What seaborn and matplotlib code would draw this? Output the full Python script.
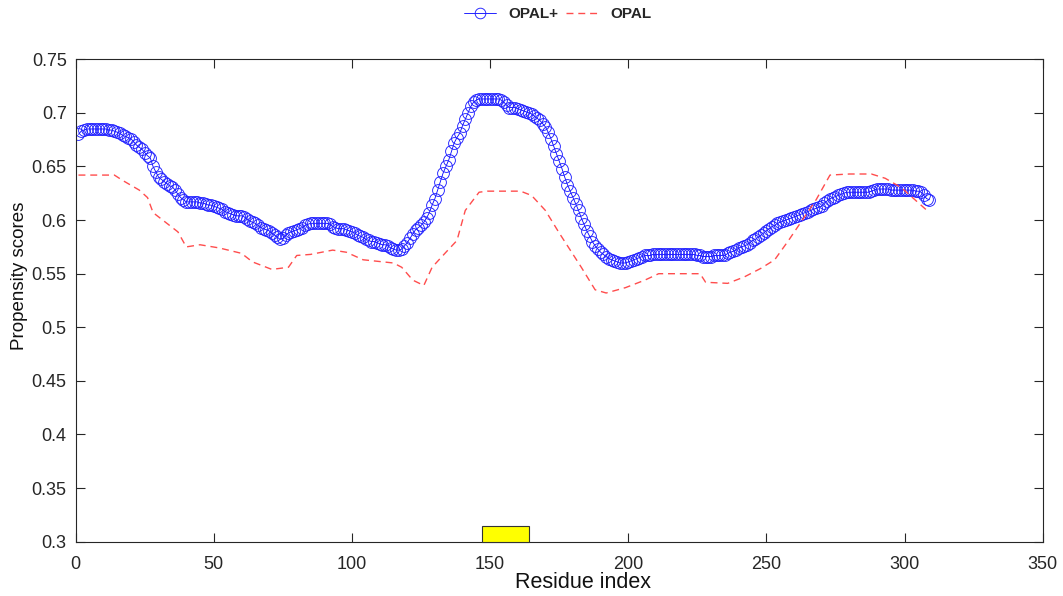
import numpy as np
import pandas as pd
import matplotlib
matplotlib.use("Agg")
import matplotlib.pyplot as plt
from matplotlib.patches import Rectangle
import seaborn as sns

# ---------------- data ----------------
opal_plus = [
    0.680, 0.683, 0.684, 0.685, 0.685, 0.685, 0.685, 0.685, 0.685, 0.685,
    0.685, 0.684, 0.684, 0.683, 0.682, 0.681, 0.679, 0.678, 0.677, 0.676,
    0.673, 0.670, 0.668, 0.666, 0.663, 0.660, 0.658, 0.650, 0.645, 0.640,
    0.638, 0.636, 0.634, 0.632, 0.631, 0.628, 0.624, 0.621, 0.619, 0.617,
    0.617, 0.617, 0.617, 0.617, 0.616, 0.616, 0.615, 0.614, 0.614, 0.613,
    0.612, 0.611, 0.610, 0.608, 0.607, 0.606, 0.605, 0.604, 0.604, 0.604,
    0.603, 0.601, 0.599, 0.598, 0.597, 0.595, 0.593, 0.592, 0.591, 0.590,
    0.588, 0.586, 0.584, 0.582, 0.583, 0.586, 0.588, 0.589, 0.590, 0.591,
    0.592, 0.593, 0.595, 0.596, 0.597, 0.597, 0.597, 0.597, 0.597, 0.597,
    0.597, 0.596, 0.594, 0.593, 0.592, 0.592, 0.592, 0.591, 0.590, 0.589,
    0.588, 0.586, 0.585, 0.584, 0.582, 0.581, 0.580, 0.580, 0.579, 0.578,
    0.577, 0.577, 0.576, 0.574, 0.573, 0.572, 0.572, 0.573, 0.576, 0.579,
    0.583, 0.587, 0.591, 0.593, 0.595, 0.598, 0.602, 0.607, 0.614, 0.620,
    0.628, 0.636, 0.644, 0.650, 0.656, 0.664, 0.672, 0.677, 0.681, 0.688,
    0.694, 0.700, 0.706, 0.710, 0.712, 0.713, 0.713, 0.713, 0.713, 0.713,
    0.713, 0.713, 0.713, 0.712, 0.710, 0.707, 0.705, 0.705, 0.705, 0.704,
    0.703, 0.702, 0.701, 0.700, 0.699, 0.697, 0.695, 0.693, 0.690, 0.687,
    0.682, 0.676, 0.669, 0.662, 0.655, 0.648, 0.640, 0.633, 0.627, 0.621,
    0.615, 0.609, 0.602, 0.596, 0.590, 0.585, 0.580, 0.576, 0.573, 0.570,
    0.568, 0.566, 0.564, 0.563, 0.562, 0.561, 0.560, 0.560, 0.560, 0.561,
    0.562, 0.563, 0.564, 0.565, 0.566, 0.567, 0.567, 0.567, 0.568, 0.568,
    0.568, 0.568, 0.568, 0.568, 0.568, 0.568, 0.568, 0.568, 0.568, 0.568,
    0.568, 0.568, 0.568, 0.568, 0.567, 0.567, 0.566, 0.566, 0.566, 0.566,
    0.567, 0.567, 0.567, 0.567, 0.567, 0.569, 0.570, 0.571, 0.572, 0.574,
    0.575, 0.576, 0.577, 0.579, 0.581, 0.582, 0.584, 0.586, 0.588, 0.590,
    0.592, 0.594, 0.595, 0.597, 0.598, 0.599, 0.600, 0.601, 0.602, 0.603,
    0.604, 0.605, 0.606, 0.607, 0.608, 0.609, 0.610, 0.611, 0.612, 0.613,
    0.616, 0.618, 0.620, 0.621, 0.622, 0.623, 0.624, 0.625, 0.626, 0.626,
    0.626, 0.626, 0.626, 0.626, 0.626, 0.626, 0.626, 0.627, 0.628, 0.629,
    0.629, 0.629, 0.629, 0.629, 0.628, 0.628, 0.628, 0.628, 0.628, 0.628,
    0.628, 0.628, 0.628, 0.627, 0.627, 0.626, 0.623, 0.620, 0.619,
]
opal_plus_residue = list(range(1, len(opal_plus) + 1))

opal_residue = [1, 14, 17, 23, 26, 28, 33, 37, 40, 45, 52, 60, 64, 71, 77, 80,
                85, 93, 98, 104, 115, 118, 122, 126, 129, 134, 138, 141, 146,
                149, 161, 165, 170, 175, 179, 183, 188, 192, 199, 206, 211,
                226, 228, 236, 242, 248, 253, 258, 263, 268, 273, 280, 288,
                293, 299, 302, 309]
opal = [0.642, 0.642, 0.637, 0.628, 0.621, 0.607, 0.597, 0.589, 0.575, 0.577,
        0.574, 0.569, 0.561, 0.554, 0.556, 0.567, 0.568, 0.572, 0.570, 0.563,
        0.560, 0.556, 0.544, 0.539, 0.556, 0.570, 0.581, 0.609, 0.626, 0.627,
        0.627, 0.623, 0.609, 0.588, 0.572, 0.556, 0.535, 0.532, 0.537, 0.544,
        0.550, 0.550, 0.542, 0.541, 0.547, 0.555, 0.563, 0.581, 0.600, 0.619,
        0.642, 0.643, 0.643, 0.639, 0.630, 0.623, 0.607]

series_labels = ["OPAL+", "OPAL"]
domain_start, domain_end = 147, 164
x_ticks = [0, 50, 100, 150, 200, 250, 300, 350]
y_ticks = [0.3, 0.35, 0.4, 0.45, 0.5, 0.55, 0.6, 0.65, 0.7, 0.75]
x_label = "Residue index"
y_label = "Propensity scores"

# ---------------- style ----------------
sns.set_style("ticks")
plt.rcParams["font.family"] = ["Liberation Sans", "DejaVu Sans"]
ink = "#262626"

fig = plt.figure(figsize=(10.63, 5.96), dpi=100)
ax = fig.add_axes([75.7 / 1063, 1 - 541.7 / 596, 967 / 1063, 482.4 / 596])

df_plus = pd.DataFrame({"residue": opal_plus_residue, "score": opal_plus})
df_opal = pd.DataFrame({"residue": opal_residue, "score": opal})

sns.lineplot(data=df_plus, x="residue", y="score", ax=ax, color="#0000ff",
             lw=0.6, marker="o", markersize=8.5, markerfacecolor="none",
             markeredgecolor="#2020ff", markeredgewidth=0.65,
             label=series_labels[0], legend=False)
sns.lineplot(data=df_opal, x="residue", y="score", ax=ax, color="#ff4d4d",
             lw=1.0, dashes=False, linestyle=(0, (5, 3.5)),
             label=series_labels[1], legend=False)

ax.add_patch(Rectangle((domain_start, 0.3), domain_end - domain_start, 0.0148,
                       facecolor="#ffff00", edgecolor="#333333", lw=0.8,
                       zorder=5, clip_on=False))

ax.set_xlim(0, 350)
ax.set_ylim(0.3, 0.75)
ax.set_xticks(x_ticks)
ax.set_yticks(y_ticks)
ax.set_xticklabels([str(v) for v in x_ticks])
ax.set_yticklabels([f"{v:g}" for v in y_ticks])

for s in ax.spines.values():
    s.set_visible(True)
    s.set_color(ink)
    s.set_linewidth(0.8)

ax.tick_params(axis="both", direction="in", top=True, right=True,
               length=6.7, width=0.8, color=ink, labelcolor=ink,
               labelsize=13)
ax.tick_params(axis="x", pad=10)
ax.tick_params(axis="y", pad=6.5)

ax.set_xlabel(x_label, fontsize=15.5, color="#111111")
ax.set_ylabel(y_label, fontsize=13.5, color="#111111")
ax.xaxis.set_label_coords((583 - 75.7) / 967, -(582.5 - 541.7) / 482.4)
ax.xaxis.label.set_va("center")
ax.yaxis.set_label_coords((20 - 75.7) / 967, (541.7 - 276) / 482.4)
ax.yaxis.label.set_va("center")
ax.yaxis.label.set_ha("center")

handles, labels = ax.get_legend_handles_labels()
fig.legend(handles, labels, loc="center", bbox_to_anchor=(558 / 1063, 1 - 14 / 596),
           ncol=2, frameon=False, prop={"weight": "bold", "size": 11},
           handlelength=2.1, handletextpad=0.8, columnspacing=0.5,
           markerscale=0.9)

fig.savefig("out.png", dpi=100)
